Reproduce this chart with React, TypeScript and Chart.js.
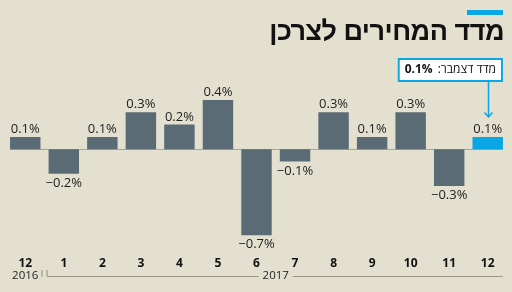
import React, { useEffect, useRef } from 'react';
import { Chart, registerables } from 'chart.js';

Chart.register(...registerables);

const months = ['12', '1', '2', '3', '4', '5', '6', '7', '8', '9', '10', '11', '12'];
const values = [0.1, -0.2, 0.1, 0.3, 0.2, 0.4, -0.7, -0.1, 0.3, 0.1, 0.3, -0.3, 0.1];
const yearLabels = ['2016', '2017'];
const yearStartIndex = [0, 1];
const titleText = 'מדד המחירים לצרכן';
const calloutLabel = 'מדד דצמבר:';
const calloutValue = '0.1%';

const BG = '#e3e0cf';
const BAR = '#5b6b76';
const BLUE = '#0aa7e6';
const RULE = '#9c9886';

const fmt = (v: number) => (v < 0 ? '\u2212' : '') + Math.abs(v).toFixed(1) + '%';

const overlayPlugin = {
  id: 'overlay',
  beforeDatasetsDraw(chart: any) {
    const ctx = chart.ctx;
    const meta = chart.getDatasetMeta(0);
    const first = meta.data[0];
    const last = meta.data[meta.data.length - 1];
    const y0 = chart.scales.y.getPixelForValue(0);
    ctx.save();
    ctx.strokeStyle = '#a9a694';
    ctx.lineWidth = 1;
    ctx.beginPath();
    ctx.moveTo(first.x - first.width / 2, Math.round(y0) + 0.5);
    ctx.lineTo(last.x + last.width / 2, Math.round(y0) + 0.5);
    ctx.stroke();
    ctx.restore();
  },
  afterDatasetsDraw(chart: any) {
    const ctx = chart.ctx;
    const meta = chart.getDatasetMeta(0);
    const data = chart.data.datasets[0].data as number[];
    ctx.save();
    ctx.fillStyle = '#1e1e1e';
    ctx.font = '13px "Open Sans"';
    ctx.textAlign = 'center';
    ctx.textBaseline = 'alphabetic';
    meta.data.forEach((el: any, i: number) => {
      const v = data[i];
      if (v >= 0) ctx.fillText(fmt(v), el.x, el.y - 4);
      else ctx.fillText(fmt(v), el.x, el.y + 13);
    });

    // year groups
    const xs = chart.scales.x;
    const yLine = 276.5;
    ctx.strokeStyle = RULE;
    ctx.lineWidth = 1.2;
    ctx.fillStyle = '#1e1e1e';
    ctx.font = '11.5px "Open Sans"';
    ctx.textBaseline = 'middle';
    const n = months.length;
    yearLabels.forEach((lab, g) => {
      const s = yearStartIndex[g];
      const e = g + 1 < yearLabels.length ? yearStartIndex[g + 1] - 1 : n - 1;
      const xsS = xs.getPixelForValue(s);
      const xsE = xs.getPixelForValue(e);
      const cx = (xsS + xsE) / 2;
      const tw = ctx.measureText(lab).width;
      ctx.fillText(lab, cx, 275.5);
      const leftB = s > 0 ? (xs.getPixelForValue(s - 1) + xsS) / 2 + 2.5 : null;
      const rightB = e < n - 1 ? (xsE + xs.getPixelForValue(e + 1)) / 2 - 2.5 : null;
      const lastEl = meta.data[e];
      const lineL = leftB !== null ? leftB : cx + tw / 2 + 3;
      const lineR = rightB !== null ? rightB : lastEl.x + lastEl.width / 2;
      ctx.beginPath();
      if (lineL < cx - tw / 2 - 4) {
        ctx.moveTo(lineL, yLine);
        ctx.lineTo(cx - tw / 2 - 4, yLine);
        ctx.moveTo(cx + tw / 2 + 4, yLine);
        ctx.lineTo(lineR, yLine);
      } else {
        ctx.moveTo(Math.max(lineL, cx + tw / 2 + 3), yLine);
        ctx.lineTo(lineR, yLine);
      }
      if (leftB !== null) {
        ctx.moveTo(leftB, yLine);
        ctx.lineTo(leftB, 270);
      }
      if (rightB !== null) {
        ctx.moveTo(rightB, yLine);
        ctx.lineTo(rightB, 270);
      }
      ctx.stroke();
    });

    // callout
    const lastEl = meta.data[meta.data.length - 1];
    const boxR = lastEl.x + lastEl.width / 2;
    ctx.direction = 'rtl';
    ctx.font = '12px "Open Sans"';
    const wLab = ctx.measureText(calloutLabel).width;
    ctx.font = 'bold 12px "Open Sans"';
    const wVal = ctx.measureText(calloutValue).width;
    const boxW = wLab + wVal + 5 + 14;
    const boxT = 58;
    const boxB = 82;
    ctx.fillStyle = '#ffffff';
    ctx.fillRect(boxR - boxW, boxT, boxW, boxB - boxT);
    ctx.strokeStyle = BLUE;
    ctx.lineWidth = 2;
    ctx.strokeRect(boxR - boxW + 1, boxT + 1, boxW - 2, boxB - boxT - 2);
    ctx.fillStyle = '#111';
    ctx.textBaseline = 'middle';
    ctx.textAlign = 'right';
    ctx.font = '12px "Open Sans"';
    ctx.fillText(calloutLabel, boxR - 7, 70);
    ctx.direction = 'ltr';
    ctx.font = 'bold 12px "Open Sans"';
    ctx.fillText(calloutValue, boxR - 7 - wLab - 5, 70);
    // arrow
    const ax = Math.round(lastEl.x) + 0.5;
    const tip = lastEl.y - 20;
    ctx.strokeStyle = BLUE;
    ctx.lineWidth = 1.5;
    ctx.beginPath();
    ctx.moveTo(ax, boxB);
    ctx.lineTo(ax, tip);
    ctx.moveTo(ax - 4, tip - 4.5);
    ctx.lineTo(ax, tip);
    ctx.lineTo(ax + 4, tip - 4.5);
    ctx.stroke();
    ctx.restore();
  },
};

export default function App() {
  const ref = useRef<HTMLCanvasElement>(null);
  useEffect(() => {
    document.body.style.margin = '0';
    const canvas = ref.current!;
    const chart = new Chart(canvas, {
      type: 'bar',
      data: {
        labels: months,
        datasets: [
          {
            data: values,
            backgroundColor: values.map((_, i) => (i === values.length - 1 ? BLUE : BAR)),
            barPercentage: 0.79,
            categoryPercentage: 1,
          },
        ],
      },
      options: {
        animation: false,
        responsive: false,
        layout: { padding: { top: 38.5, left: 6, right: 5, bottom: 12 } },
        plugins: { legend: { display: false }, tooltip: { enabled: false } },
        scales: {
          y: { display: false, min: -0.8, max: 0.9 },
          x: {
            grid: { display: false, drawTicks: false },
            border: { display: false },
            ticks: {
              color: '#111',
              padding: 9,
              maxRotation: 0,
              autoSkip: false,
              font: { family: 'Open Sans', weight: 'bold', size: 12 },
            },
          },
        },
      },
      plugins: [overlayPlugin],
    });
    return () => chart.destroy();
  }, []);

  return (
    <div style={{ position: 'relative', width: 512, height: 292, background: BG, overflow: 'hidden' }}>
      <canvas ref={ref} width={512} height={292} style={{ position: 'absolute', left: 0, top: 0 }} />
      <div style={{ position: 'absolute', right: 9, top: 10, width: 36, height: 5, background: BLUE }} />
      <div
        dir="rtl"
        style={{
          position: 'absolute',
          right: 8,
          top: 17,
          fontFamily: '"Liberation Sans", Arial, sans-serif',
          fontWeight: 'bold',
          fontSize: 27,
          letterSpacing: '-0.5px',
          lineHeight: '28px',
          color: '#111',
          whiteSpace: 'nowrap',
        }}
      >
        {titleText}
      </div>
    </div>
  );
}
